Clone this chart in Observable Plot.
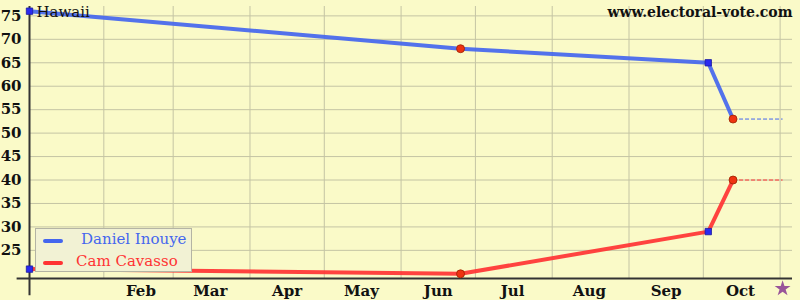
<!DOCTYPE html>
<html><head><meta charset="utf-8">
<script src="https://cdn.jsdelivr.net/npm/d3@7"></script>
<script src="https://cdn.jsdelivr.net/npm/@observablehq/plot@0.6"></script>
<style>
body{margin:0;background:#fafac8;}
#wrap{position:relative;width:800px;height:300px;overflow:hidden;}
.legend{position:absolute;left:35px;top:228px;width:157px;height:44px;background:#f2f2d4;border:1px solid #b4b4a4;box-sizing:border-box;font:15px "DejaVu Serif",serif;}
.legend .sw{position:absolute;left:7px;width:20px;height:4px;border-radius:2px;}
.legend .lb{position:absolute;white-space:nowrap;}
</style></head>
<body><div id="wrap"></div>
<script>
const dates = ["2010-01-02", "2010-06-25", "2010-10-03", "2010-10-13"];
const inouye = [76, 68, 65, 53];
const cavasso = [21, 20, 29, 40];
const markerKind = ["square", "circle", "square", "circle"];
const electionDay = "2010-11-02";
const candidates = ["Daniel Inouye", "Cam Cavasso"];
const colors = ["#4466ee", "#ff3333"];
const yTicks = [25, 30, 35, 40, 45, 50, 55, 60, 65, 70, 75];
const monthStarts = ["2010-02-01","2010-03-01","2010-04-01","2010-05-01","2010-06-01","2010-07-01","2010-08-01","2010-09-01","2010-10-01","2010-11-01"];
const monthLabelDates = ["2010-02-16","2010-03-16","2010-04-16","2010-05-16","2010-06-16","2010-07-16","2010-08-16","2010-09-16","2010-10-16"];
const monthLabels = ["Feb","Mar","Apr","May","Jun","Jul","Aug","Sep","Oct"];
const xDomain = ["2010-01-02", "2010-11-06"];
const yDomain = [19, 77];

const D = s => new Date(s);
const series = [inouye, cavasso];
const rows = [];
series.forEach((vals, si) => vals.forEach((v, i) => rows.push({cand: candidates[si], date: D(dates[i]), v, kind: markerKind[i]})));
const last = dates.length - 1;
const dashRows = series.map((vals, si) => ({cand: candidates[si], x1: D(dates[last]), x2: D(electionDay), v: vals[last]}));
const colorOf = c => colors[candidates.indexOf(c)];
const serif = "DejaVu Serif, serif";

const plot = Plot.plot({
  width: 800, height: 300,
  marginLeft: 29, marginRight: 8, marginTop: 6, marginBottom: 22,
  style: {background: "#fafac8", overflow: "visible"},
  x: {type: "utc", domain: xDomain.map(D), axis: null},
  y: {domain: yDomain, axis: null},
  marks: [
    Plot.ruleX(monthStarts.map(D), {stroke: "#c4c4a4", strokeWidth: 1}),
    Plot.ruleY(yTicks, {stroke: "#c4c4a4", strokeWidth: 1}),
    Plot.text(yTicks, {x: D(xDomain[0]), y: d => d, text: d => String(d), textAnchor: "end", dx: -8, fontFamily: serif, fontWeight: "bold", fontSize: 15, fill: "#111"}),
    Plot.text(monthLabelDates.map(D), {x: d => d, y: yDomain[0], text: (d, i) => monthLabels[i], dy: 13, fontFamily: serif, fontWeight: "bold", fontSize: 15, fill: "#111"}),
    Plot.link(dashRows, {x1: "x1", x2: "x2", y1: "v", y2: "v", stroke: d => colorOf(d.cand), strokeWidth: 1, strokeDasharray: "4,2"}),
    Plot.line(rows, {x: "date", y: "v", z: "cand", stroke: d => colorOf(d.cand), strokeWidth: 4, strokeOpacity: 0.92}),
    Plot.ruleY([yDomain[0]], {x1: D("2009-12-28"), x2: D(xDomain[1]), stroke: "#333", strokeWidth: 2, clip: false}),
    Plot.ruleX([D(xDomain[0])], {y1: 15.3, y2: yDomain[1], stroke: "#333", strokeWidth: 2, clip: false}),
    Plot.dot(rows.filter(d => d.kind === "square"), {x: "date", y: "v", symbol: "square", r: 3.6, fill: "#2a2af0", stroke: "#1a1aa0", strokeWidth: 0.8}),
    Plot.dot(rows.filter(d => d.kind === "circle"), {x: "date", y: "v", symbol: "circle", r: 4, fill: "#ee3311", stroke: "#9a2200", strokeWidth: 0.8}),
    Plot.dot([D(electionDay)], {x: d => d, y: yDomain[0], dy: 10, symbol: "star", r: 5, fill: "#995599", stroke: "none"}),
    Plot.text(["Hawaii"], {frameAnchor: "top-left", dx: 7, dy: 6, lineAnchor: "middle", textAnchor: "start", fontFamily: serif, fontSize: 15, fill: "#111"}),
    Plot.text(["www.electoral-vote.com"], {frameAnchor: "top-right", dx: 0, dy: 6, lineAnchor: "middle", textAnchor: "end", fontFamily: serif, fontWeight: "bold", fontSize: 14, fill: "#111"})
  ]
});
const wrap = document.getElementById("wrap");
wrap.appendChild(plot);
const leg = document.createElement("div");
leg.className = "legend";
candidates.forEach((c, i) => {
  const sw = document.createElement("div");
  sw.className = "sw";
  sw.style.top = (10 + i * 22) + "px";
  sw.style.background = colors[i];
  leg.appendChild(sw);
  const lb = document.createElement("div");
  lb.className = "lb";
  lb.textContent = c;
  lb.style.color = colors[i];
  lb.style.left = (i === 0 ? 45 : 40) + "px";
  lb.style.top = (1 + i * 22) + "px";
  leg.appendChild(lb);
});
wrap.appendChild(leg);
</script>
</body></html>
